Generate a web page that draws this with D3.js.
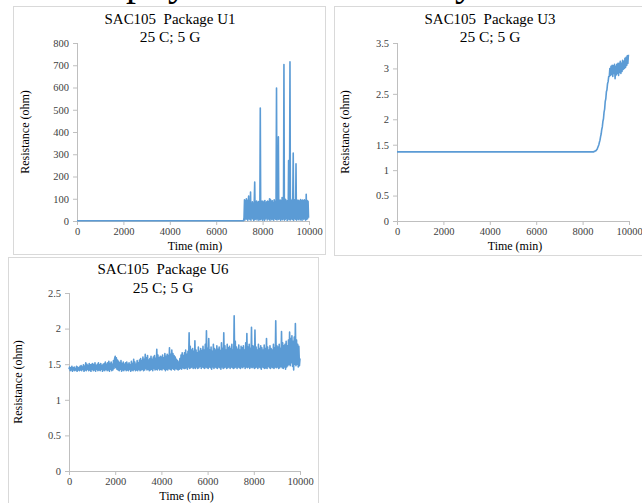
<!DOCTYPE html>
<html>
<head>
<meta charset="utf-8">
<script src="https://cdn.jsdelivr.net/npm/d3@7"></script>
<style>
  html, body { margin: 0; padding: 0; background: #fff; }
  svg { display: block; }
  svg text { font-family: "Liberation Serif", "DejaVu Serif", serif; }
</style>
</head>
<body>
<svg id="chart" width="642" height="503"></svg>
<script>
// ---- data ----------------------------------------------------------------
const xTicks = [0, 2000, 4000, 6000, 8000, 10000];
const yTicksU1 = [0, 100, 200, 300, 400, 500, 600, 700, 800];
const yTicksU3 = [0, 0.5, 1, 1.5, 2, 2.5, 3, 3.5];
const yTicksU6 = [0, 0.5, 1, 1.5, 2, 2.5];

// U1: steady before failure onset, then sampled every 20 min
const u1BaseTimes = [0, 7180];
const u1BaseValues = [1.4, 1.4];
const u1NoiseStart = 7200, u1NoiseStep = 20;
const u1NoiseValues = [
  15, 95, 5, 88, 12, 100, 8, 92, 3, 85,
  112, 10, 90, 6, 130, 4, 80, 14, 86, 9,
  78, 2, 88, 175, 7, 84, 11, 90, 5, 82,
  13, 87, 3, 79, 8, 508, 6, 85, 12, 90,
  4, 83, 10, 88, 2, 92, 9, 80, 14, 86,
  5, 90, 11, 84, 7, 100, 3, 96, 12, 88,
  6, 91, 9, 82, 4, 95, 13, 87, 8, 93,
  598, 5, 90, 10, 378, 7, 86, 12, 94, 3,
  88, 9, 105, 6, 91, 11, 703, 4, 100, 8,
  95, 13, 89, 2, 92, 10, 272, 6, 110, 715,
  5, 98, 12, 90, 7, 94, 305, 3, 96, 11,
  88, 8, 257, 4, 95, 10, 90, 6, 93, 12,
  87, 5, 96, 9, 91, 3, 94, 11, 89, 7,
  95, 13, 90, 4, 120, 8, 92, 10, 88, 15
];

// U3: flat, then the rising section sampled every 25 min
const u3BaseTimes = [0, 8475];
const u3BaseValues = [1.36, 1.36];
const u3RiseStart = 8500, u3RiseStep = 25;
const u3RiseValues = [
  1.37, 1.37, 1.38, 1.38, 1.40, 1.41, 1.44, 1.47, 1.50, 1.55,
  1.59, 1.66, 1.71, 1.80, 1.85, 1.96, 2.01, 2.14, 2.20, 2.35,
  2.40, 2.54, 2.58, 2.70, 2.74, 2.84, 2.84, 3.00, 2.86, 3.04,
  2.88, 3.06, 2.84, 3.05, 2.90, 3.08, 2.80, 3.04, 2.87, 3.08,
  2.90, 3.10, 2.86, 3.10, 2.92, 3.14, 2.90, 3.10, 2.94, 3.16,
  2.98, 3.14, 3.00, 3.20, 3.02, 3.22, 3.06, 3.25, 3.10, 3.27
];

// U6: sampled every 25 min over the whole run
const u6Start = 0, u6Step = 25;
const u6Values = [
  1.43,1.46,1.41,1.45,1.42,1.47,1.40,1.45,1.42,1.46,1.41,1.44,1.42,1.47,1.40,1.46,1.42,1.45,1.41,1.47,
  1.42,1.48,1.41,1.46,1.43,1.49,1.40,1.47,1.42,1.52,1.41,1.50,1.43,1.48,1.41,1.51,1.42,1.49,1.40,1.50,
  1.43,1.51,1.41,1.49,1.42,1.52,1.40,1.48,1.43,1.50,1.41,1.52,1.42,1.49,1.41,1.51,1.43,1.48,1.40,1.50,
  1.42,1.51,1.41,1.53,1.43,1.50,1.41,1.52,1.42,1.54,1.40,1.51,1.43,1.53,1.41,1.50,1.42,1.55,1.44,1.58,
  1.61,1.45,1.59,1.43,1.56,1.42,1.54,1.41,1.52,1.43,1.55,1.40,1.51,1.42,1.53,1.41,1.50,1.43,1.52,1.41,
  1.53,1.42,1.50,1.41,1.52,1.43,1.49,1.40,1.54,1.42,1.51,1.41,1.57,1.43,1.53,1.41,1.50,1.42,1.55,1.41,
  1.52,1.43,1.56,1.41,1.58,1.42,1.55,1.43,1.60,1.41,1.57,1.42,1.64,1.44,1.59,1.42,1.62,1.43,1.56,1.41,
  1.58,1.42,1.61,1.43,1.57,1.41,1.60,1.44,1.62,1.42,1.58,1.43,1.71,1.42,1.63,1.44,1.59,1.42,1.61,1.43,
  1.60,1.42,1.63,1.44,1.59,1.43,1.65,1.41,1.61,1.43,1.64,1.42,1.62,1.44,1.73,1.43,1.64,1.42,1.70,1.44,
  1.65,1.43,1.62,1.42,1.60,1.44,1.57,1.43,1.55,1.42,1.53,1.43,1.58,1.44,1.63,1.43,1.66,1.45,1.62,1.44,
  1.66,1.44,1.70,1.45,1.64,1.43,1.68,1.46,1.94,1.44,1.75,1.45,1.70,1.46,1.72,1.44,1.68,1.45,1.83,1.44,
  1.70,1.46,1.66,1.44,1.74,1.45,1.68,1.47,1.72,1.44,1.69,1.46,1.75,1.45,1.70,1.44,1.78,1.46,1.97,1.45,
  1.72,1.44,1.86,1.46,1.70,1.45,1.74,1.43,1.68,1.46,1.78,1.44,1.72,1.46,1.70,1.45,1.76,1.44,1.71,1.46,
  1.74,1.45,1.69,1.43,1.80,1.46,1.72,1.44,1.94,1.45,1.76,1.46,1.70,1.44,1.78,1.45,1.73,1.46,1.75,1.44,
  1.72,1.46,1.78,1.45,1.70,1.44,2.18,1.45,1.82,1.46,1.74,1.44,1.71,1.46,1.77,1.45,1.70,1.44,1.75,1.46,
  1.73,1.45,1.76,1.47,1.70,1.44,1.80,1.46,1.93,1.45,1.74,1.46,1.78,1.44,1.72,1.46,2.02,1.45,1.76,1.46,
  1.75,1.44,1.98,1.45,1.74,1.46,1.70,1.44,1.78,1.46,1.72,1.45,1.76,1.43,1.73,1.46,1.70,1.45,1.77,1.44,
  1.72,1.45,1.86,1.44,1.74,1.47,1.70,1.45,1.76,1.44,1.72,1.46,1.70,1.45,1.78,1.44,1.73,1.46,2.11,1.45,
  1.76,1.46,1.74,1.44,1.78,1.45,1.72,1.47,1.96,1.45,1.80,1.44,1.76,1.46,1.78,1.43,1.82,1.46,1.76,1.48,
  1.84,1.50,1.95,1.48,1.86,1.52,1.90,1.47,1.82,1.42,1.88,1.50,2.07,1.48,1.84,1.50,1.78,1.46,1.75,1.48,
  1.58
];

const titleLine1 = ["SAC105  Package U1", "SAC105  Package U3", "SAC105  Package U6"];
const titleLine2 = "25 C; 5 G";
const xAxisTitle = "Time (min)";
const yAxisTitle = "Resistance (ohm)";

// ---- helpers ---------------------------------------------------------------
function sampled(start, step, values) {
  return values.map((v, i) => ({ t: start + i * step, v }));
}
function paired(times, values) {
  return times.map((t, i) => ({ t, v: values[i] }));
}

const seriesU1 = paired(u1BaseTimes, u1BaseValues).concat(sampled(u1NoiseStart, u1NoiseStep, u1NoiseValues));
const seriesU3 = paired(u3BaseTimes, u3BaseValues).concat(sampled(u3RiseStart, u3RiseStep, u3RiseValues));
const seriesU6 = sampled(u6Start, u6Step, u6Values);

const svg = d3.select("#chart");
const SERIF = "'Liberation Serif', 'DejaVu Serif', serif";
const LINE = "#5b9bd5";
const AXIS = "#bfbfbf";
const FRAME = "#d9d9d9";
const LABEL = "#404040";

// fragment of the heading line above the charts
const heading = svg.append("g").attr("font-size", 40).attr("fill", "#000");
[["p", 136], ["y", 178], ["y", 465]].forEach(([ch, x]) => {
  heading.append("text").attr("x", x).attr("y", -5).attr("text-anchor", "middle")
    .attr("font-family", SERIF).text(ch);
});

function drawPanel(cfg) {
  const g = svg.append("g");
  // chart frame
  g.append("rect")
    .attr("x", cfg.frame[0] + 0.5).attr("y", cfg.frame[1] + 0.5)
    .attr("width", cfg.frame[2]).attr("height", cfg.frame[3])
    .attr("fill", "#fff").attr("stroke", FRAME).attr("stroke-width", 1);

  const x = d3.scaleLinear().domain([0, 10000]).range([cfg.plot[0], cfg.plot[1]]);
  const y = d3.scaleLinear().domain([0, cfg.yMax]).range([cfg.plot[3], cfg.plot[2]]);

  // axes
  const xAxis = d3.axisBottom(x).tickValues(xTicks).tickSize(4).tickPadding(3).tickFormat(d3.format("d"));
  const yAxis = d3.axisLeft(y).tickValues(cfg.yTicks).tickSize(4).tickPadding(4).tickFormat(d => String(d));

  const gx = g.append("g").attr("transform", `translate(0,${cfg.plot[3]})`).call(xAxis);
  const gy = g.append("g").attr("transform", `translate(${cfg.plot[0]},0)`).call(yAxis);
  [gx, gy].forEach(a => {
    a.attr("font-family", SERIF);
    a.select(".domain").attr("stroke", AXIS).attr("stroke-width", 1);
    a.selectAll(".tick line").attr("stroke", AXIS);
    a.selectAll(".tick text").attr("fill", LABEL).attr("font-size", 10.5).attr("font-family", SERIF);
  });
  gy.select(".domain").attr("d", `M0.5,${cfg.plot[3]}V${cfg.plot[2]}`);
  gx.select(".domain").attr("d", `M${cfg.plot[0]},0.5H${cfg.plot[1]}`);

  // series
  const line = d3.line().x(d => x(d.t)).y(d => y(d.v));
  g.append("path").datum(cfg.data)
    .attr("d", line)
    .attr("fill", "none")
    .attr("stroke", LINE)
    .attr("stroke-width", 1.6)
    .attr("stroke-linejoin", "round");

  // titles
  const cx = cfg.titleX;
  g.append("text").attr("x", cx).attr("y", cfg.titleY)
    .attr("text-anchor", "middle").attr("font-size", 15.5).attr("fill", "#000")
    .attr("font-family", SERIF).attr("textLength", 131).attr("lengthAdjust", "spacingAndGlyphs")
    .style("white-space", "pre").text(cfg.title);
  g.append("text").attr("x", cx).attr("y", cfg.titleY + 18.5)
    .attr("text-anchor", "middle").attr("font-size", 15.5).attr("fill", "#000")
    .attr("font-family", SERIF).text(titleLine2);

  g.append("text").attr("x", (cfg.plot[0] + cfg.plot[1]) / 2 + 2).attr("y", cfg.plot[3] + 29)
    .attr("text-anchor", "middle").attr("font-size", 12).attr("fill", "#000")
    .attr("font-family", SERIF).text(xAxisTitle);
  g.append("text")
    .attr("transform", `translate(${cfg.yTitleX},${(cfg.plot[2] + cfg.plot[3]) / 2}) rotate(-90)`)
    .attr("text-anchor", "middle").attr("font-size", 12).attr("fill", "#000")
    .attr("font-family", SERIF).text(yAxisTitle);
}

drawPanel({
  frame: [13, 6, 312, 248], plot: [77, 309, 43, 221],
  yMax: 800, yTicks: yTicksU1, data: seriesU1,
  title: titleLine1[0], titleX: 170, titleY: 23.5, yTitleX: 29
});
drawPanel({
  frame: [334, 6, 320, 249], plot: [397, 629, 43, 221],
  yMax: 3.5, yTicks: yTicksU3, data: seriesU3,
  title: titleLine1[1], titleX: 490, titleY: 23.5, yTitleX: 349
});
drawPanel({
  frame: [8, 257, 310, 260], plot: [69, 300, 293, 471],
  yMax: 2.5, yTicks: yTicksU6, data: seriesU6,
  title: titleLine1[2], titleX: 163, titleY: 274, yTitleX: 22
});
</script>
</body>
</html>
